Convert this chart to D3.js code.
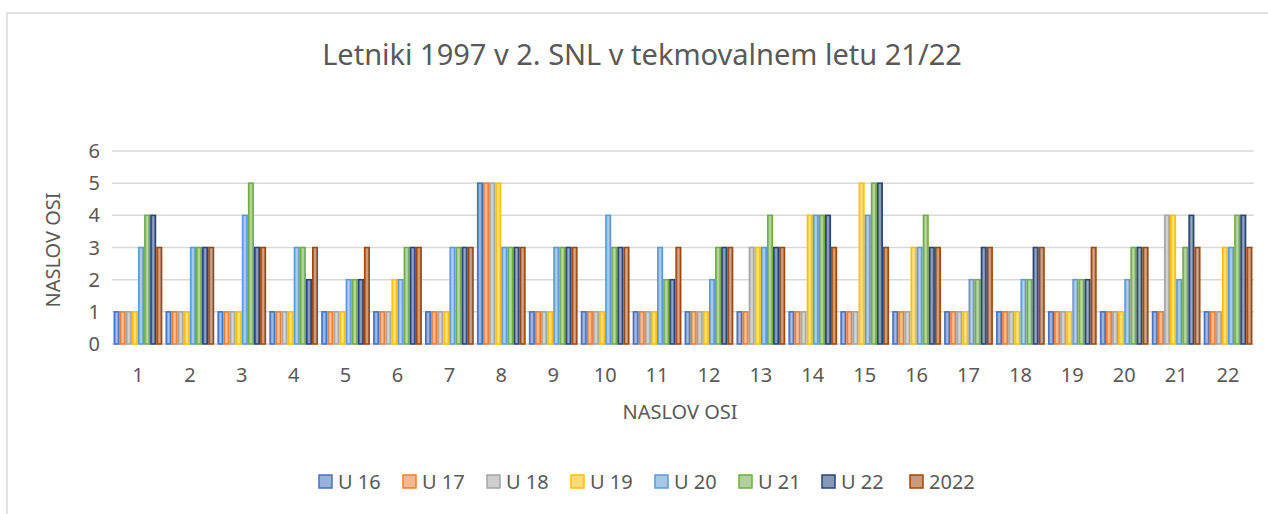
<!DOCTYPE html>
<html>
<head>
<meta charset="utf-8">
<script src="https://cdn.jsdelivr.net/npm/d3@7"></script>
<style>
  body { margin: 0; background: #fff; }
  text { font-family: "Noto Sans", "Open Sans", sans-serif; fill: #595959; }
</style>
</head>
<body>
<svg id="chart"></svg>
<script>
// categories on the x axis
const categories = ["1","2","3","4","5","6","7","8","9","10","11","12","13","14","15","16","17","18","19","20","21","22"];
const seriesNames = ["U 16","U 17","U 18","U 19","U 20","U 21","U 22","2022"];
const seriesColors = ["#4472C4","#ED7D31","#A5A5A5","#FFC000","#5B9BD5","#70AD47","#264478","#9E480E"];

// values per series, one per category
const u16 = [1,1,1,1,1,1,1,5,1,1,1,1,1,1,1,1,1,1,1,1,1,1];
const u17 = [1,1,1,1,1,1,1,5,1,1,1,1,1,1,1,1,1,1,1,1,1,1];
const u18 = [1,1,1,1,1,1,1,5,1,1,1,1,3,1,1,1,1,1,1,1,4,1];
const u19 = [1,1,1,1,1,2,1,5,1,1,1,1,3,4,5,3,1,1,1,1,4,3];
const u20 = [3,3,4,3,2,2,3,3,3,4,3,2,3,4,4,3,2,2,2,2,2,3];
const u21 = [4,3,5,3,2,3,3,3,3,3,2,3,4,4,5,4,2,2,2,3,3,4];
const u22 = [4,3,3,2,2,3,3,3,3,3,2,3,3,4,5,3,3,3,2,3,4,4];
const y2022 = [3,3,3,3,3,3,3,3,3,3,3,3,3,3,3,3,3,3,3,3,3,3];
const allSeries = [u16, u17, u18, u19, u20, u21, u22, y2022];

const yTicks = [0,1,2,3,4,5,6];

const W = 1268, H = 514;
const margin = {top: 151, right: 14, bottom: 170, left: 112};
const innerW = W - margin.left - margin.right;
const innerH = H - margin.top - margin.bottom;

const svg = d3.select("#chart").attr("width", W).attr("height", H);

// gradients like the Excel bar fill
const defs = svg.append("defs");
seriesColors.forEach((c, i) => {
  const g = defs.append("linearGradient").attr("id", "grad" + i)
    .attr("x1", "0%").attr("x2", "100%").attr("y1", "0%").attr("y2", "0%");
  const light = d3.interpolateRgb(c, "#ffffff")(0.55);
  g.append("stop").attr("offset", "0%").attr("stop-color", d3.interpolateRgb(c, "#fff")(0.15));
  g.append("stop").attr("offset", "50%").attr("stop-color", light);
  g.append("stop").attr("offset", "100%").attr("stop-color", d3.interpolateRgb(c, "#fff")(0.15));
});

// chart border
svg.append("rect")
  .attr("x", 7).attr("y", 13).attr("width", W + 20).attr("height", H + 20)
  .attr("fill", "none").attr("stroke", "#d9d9d9").attr("stroke-width", 1.5);

// title
svg.append("text")
  .attr("x", 642).attr("y", 65)
  .attr("text-anchor", "middle")
  .style("font-size", "29px")
  .text("Letniki 1997 v 2. SNL v tekmovalnem letu 21/22");

const g = svg.append("g").attr("transform", `translate(${margin.left},${margin.top})`);

const x0 = d3.scaleBand().domain(categories).range([0, innerW]).paddingInner(0.06).paddingOuter(0.03);
const x1 = d3.scaleBand().domain(d3.range(seriesNames.length)).range([0, x0.bandwidth()]);
const y = d3.scaleLinear().domain([0, 6]).range([innerH, 0]);

// gridlines
g.append("g").selectAll("line").data(yTicks).join("line")
  .attr("x1", 0).attr("x2", innerW)
  .attr("y1", d => y(d)).attr("y2", d => y(d))
  .attr("stroke", "#d9d9d9").attr("stroke-width", 1.5);

// y tick labels
g.append("g").selectAll("text").data(yTicks).join("text")
  .attr("x", -12).attr("y", d => y(d))
  .attr("dy", "0.35em")
  .attr("text-anchor", "end")
  .style("font-size", "20px")
  .text(d => d);

// bars
const groups = g.append("g").selectAll("g").data(categories).join("g")
  .attr("transform", d => `translate(${x0(d)},0)`);

groups.selectAll("rect")
  .data((d, ci) => allSeries.map((s, si) => ({si, v: s[ci]})))
  .join("rect")
  .attr("x", d => x1(d.si) + 0.75)
  .attr("width", x1.bandwidth() - 1.5)
  .attr("y", d => y(d.v))
  .attr("height", d => y(0) - y(d.v))
  .attr("fill", d => `url(#grad${d.si})`)
  .attr("stroke", d => seriesColors[d.si])
  .attr("stroke-width", 1.5);

// x tick labels
g.append("g").selectAll("text").data(categories).join("text")
  .attr("x", d => x0(d) + x0.bandwidth() / 2)
  .attr("y", innerH + 38)
  .attr("text-anchor", "middle")
  .style("font-size", "20px")
  .text(d => d);

// axis titles
svg.append("text")
  .attr("x", 680).attr("y", 419)
  .attr("text-anchor", "middle")
  .style("font-size", "20px")
  .text("NASLOV OSI");

svg.append("text")
  .attr("transform", "translate(60,250) rotate(-90)")
  .attr("text-anchor", "middle")
  .style("font-size", "20px")
  .text("NASLOV OSI");

// legend
const legendX = [319, 403, 487, 571, 655, 739, 822, 910];
const legend = svg.append("g").selectAll("g").data(seriesNames).join("g")
  .attr("transform", (d, i) => `translate(${legendX[i]},475)`);
legend.append("rect")
  .attr("width", 13).attr("height", 13)
  .attr("fill", (d, i) => d3.interpolateRgb(seriesColors[i], "#fff")(0.45))
  .attr("stroke", (d, i) => seriesColors[i]).attr("stroke-width", 1.5);
legend.append("text")
  .attr("x", 19).attr("y", 7).attr("dy", "0.35em")
  .style("font-size", "20px")
  .text(d => d);
</script>
</body>
</html>
